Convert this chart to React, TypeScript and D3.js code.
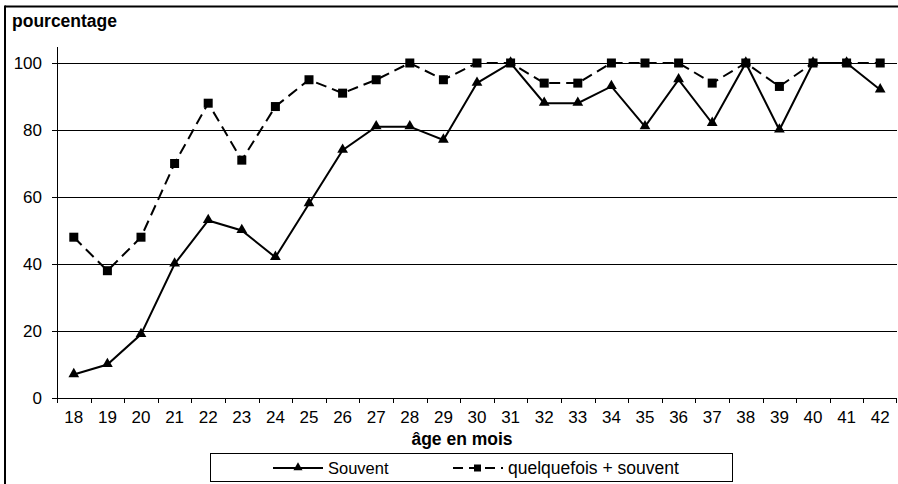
import React from "react";
import * as d3 from "d3";

const ages = [18,19,20,21,22,23,24,25,26,27,28,29,30,31,32,33,34,35,36,37,38,39,40,41,42];
const souvent = [7,10,19,40,53,50,42,58,74,81,81,77,94,100,88,88,93,81,95,82,100,80,100,100,92];
const quelquefois = [48,38,48,70,88,71,87,95,91,95,100,95,100,100,94,94,100,100,100,94,100,93,100,100,100];
const yTicks = [0,20,40,60,80,100];

const W = 898, H = 484;
const FONT = "'Liberation Sans', Arial, sans-serif";

export default function App() {
  const x = d3.scaleBand<number>().domain(ages).range([57, 897]).padding(0);
  const y = d3.scaleLinear().domain([0, 100]).range([398, 63]);
  const cx = (a: number) => (x(a) as number) + x.bandwidth() / 2;
  const line = d3.line<number>().x((_, i) => cx(ages[i])).y(d => y(d));
  const tri = d3.symbol().type(d3.symbolTriangle).size(50);
  const triLeg = d3.symbol().type(d3.symbolTriangle).size(36);

  return (
    <div style={{ position: "absolute", left: 0, top: 0 }}>
      <svg width={W} height={H} style={{ display: "block", background: "#fff" }} fontFamily={FONT}>
        <rect x={0} y={0} width={W} height={H} fill="#fff" />
        {/* outer frame */}
        <line x1={5} y1={6.5} x2={W} y2={6.5} stroke="#000" strokeWidth={2} />
        <line x1={5} y1={5.5} x2={5} y2={H} stroke="#000" strokeWidth={2} />
        <text x={12} y={27} fontSize={17.5} fontWeight="bold">pourcentage</text>

        {/* gridlines */}
        {yTicks.filter(t => t > 0).map(t => (
          <line key={t} x1={57} x2={897} y1={Math.round(y(t)) + 0.5} y2={Math.round(y(t)) + 0.5} stroke="#000" strokeWidth={1} />
        ))}
        {/* y axis */}
        <line x1={57.5} x2={57.5} y1={47} y2={398} stroke="#000" strokeWidth={1} />
        {yTicks.map(t => (
          <g key={t}>
            <line x1={52} x2={57} y1={Math.round(y(t)) + 0.5} y2={Math.round(y(t)) + 0.5} stroke="#000" />
            <text x={42} y={y(t)} dy="0.36em" textAnchor="end" fontSize={17}>{t}</text>
          </g>
        ))}
        {/* x axis */}
        <line x1={57} x2={897} y1={398.5} y2={398.5} stroke="#000" />
        {ages.map(a => (
          <line key={"t" + a} x1={Math.round(x(a) as number) + 0.5} x2={Math.round(x(a) as number) + 0.5} y1={398} y2={403} stroke="#000" />
        ))}
        <line x1={896.5} x2={896.5} y1={398} y2={403} stroke="#000" />
        {ages.map(a => (
          <text key={"l" + a} x={cx(a)} y={423} textAnchor="middle" fontSize={17}>{a}</text>
        ))}
        <text x={462} y={445} textAnchor="middle" fontSize={17.5} fontWeight="bold">âge en mois</text>

        {/* series */}
        <path d={line(quelquefois) || ""} fill="none" stroke="#000" strokeWidth={2} strokeDasharray="11,6" />
        {quelquefois.map((v, i) => (
          <rect key={"q" + i} x={cx(ages[i]) - 4.5} y={y(v) - 4.5} width={9} height={9} fill="#000" />
        ))}
        <path d={line(souvent) || ""} fill="none" stroke="#000" strokeWidth={2} />
        {souvent.map((v, i) => (
          <path key={"s" + i} d={tri() || ""} transform={`translate(${cx(ages[i])},${y(v) - 0.5})`} fill="#000" />
        ))}

        {/* legend */}
        <rect x={210.5} y={453.5} width={522} height={28} fill="#fff" stroke="#000" strokeWidth={1} />
        <line x1={273} x2={323} y1={468} y2={468} stroke="#000" strokeWidth={2} />
        <path d={triLeg() || ""} transform="translate(298,467.5)" fill="#000" />
        <text x={328} y={474} fontSize={16.5}>Souvent</text>
        <line x1={453} x2={503} y1={468} y2={468} stroke="#000" strokeWidth={2} strokeDasharray="10,6" />
        <rect x={474} y={464.5} width={7} height={7} fill="#000" />
        <text x={508} y={474} fontSize={17.5}>quelquefois + souvent</text>
      </svg>
    </div>
  );
}
